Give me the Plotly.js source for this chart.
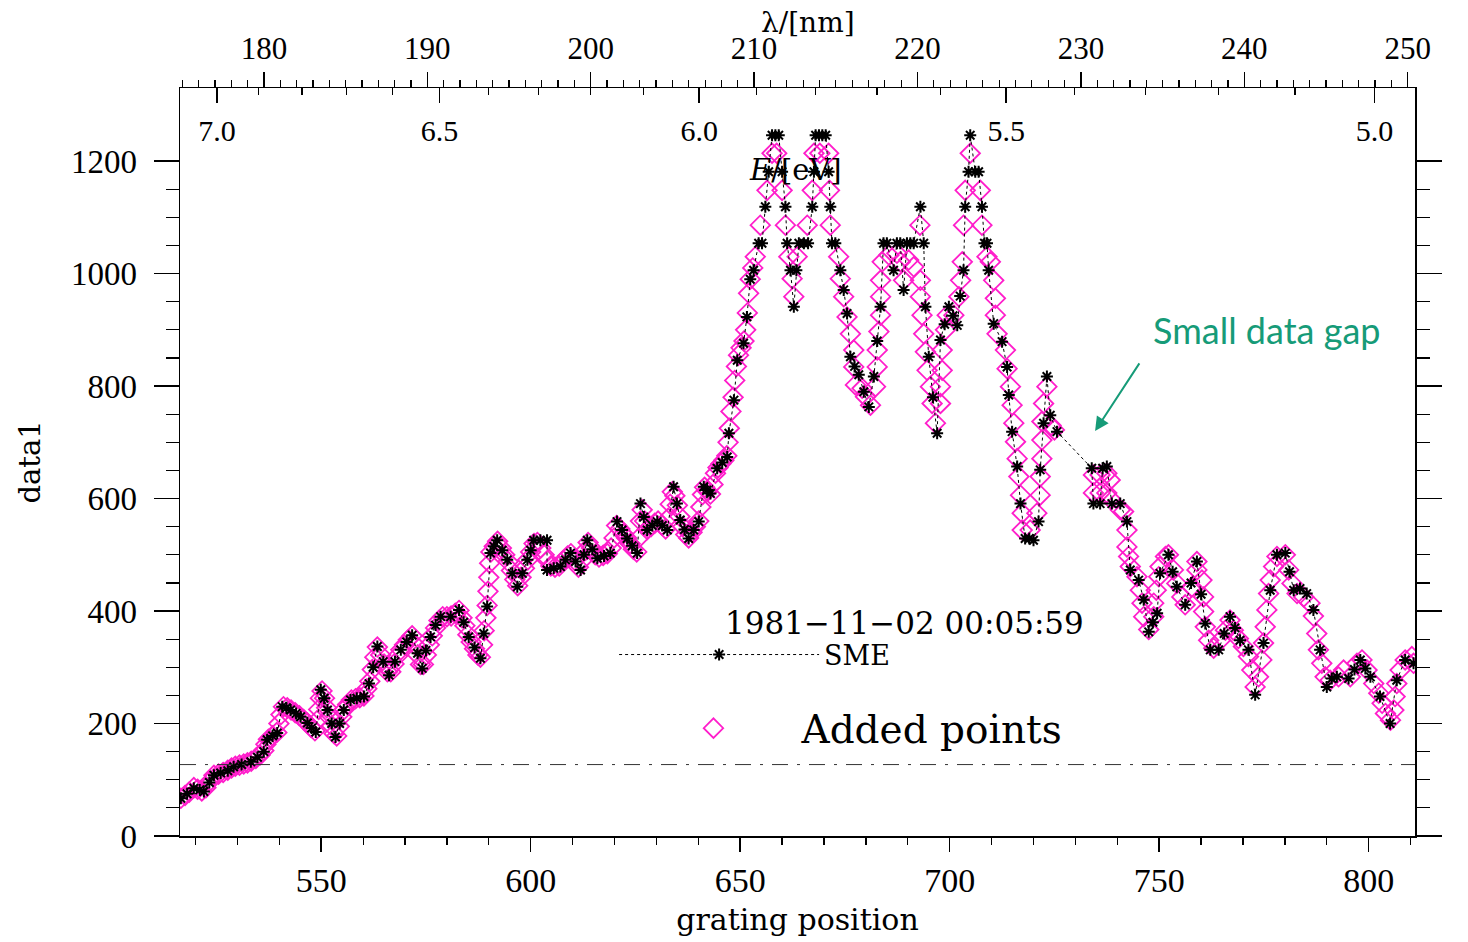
<!DOCTYPE html>
<html>
<head>
<meta charset="utf-8">
<script src="https://cdn.plot.ly/plotly-3.0.1.min.js"></script>
<style>html,body{margin:0;padding:0;background:#fff;}#chart{width:1468px;height:942px;}</style>
</head>
<body>
<div id="chart"></div>
<script>
// ---- data ----
const smeX = [516.5,518.0,519.6,521.0,522.0,523.3,524.4,526.0,527.7,529.1,531.0,533.2,534.8,536.3,537.1,538.4,539.5,540.7,541.7,542.7,544.0,545.1,546.7,547.7,548.7,549.9,550.7,551.5,552.5,553.4,554.4,555.4,557.0,558.5,560.2,561.4,562.4,563.4,564.8,566.2,567.6,569.0,570.4,571.7,573.0,574.1,575.0,576.1,577.3,578.5,580.9,582.9,584.0,585.2,586.6,588.0,588.8,589.6,590.4,591.2,592.0,593.2,594.4,595.6,596.8,598.0,599.2,600.0,600.7,602.3,603.9,603.9,605.5,607.1,608.3,609.5,610.7,611.9,612.7,613.5,614.7,615.9,617.5,619.0,620.6,621.8,623.0,624.2,625.4,626.2,627.0,627.8,629.0,630.2,631.4,632.6,634.1,634.9,635.7,636.7,637.7,638.9,640.1,641.3,642.1,642.9,644.5,645.7,646.9,647.3,648.5,649.3,650.8,651.6,652.4,653.2,654.4,655.2,656.0,656.8,657.6,658.4,659.2,660.0,660.8,661.2,662.0,662.8,663.4,664.0,665.2,666.2,667.2,667.6,668.0,668.8,669.6,670.4,671.1,671.5,671.9,672.7,673.9,674.7,675.5,676.3,677.3,678.3,679.5,680.7,681.9,682.7,683.5,684.2,685.0,686.6,687.4,688.2,689.0,689.8,690.6,691.4,693.0,693.8,694.2,695.0,696.0,697.0,697.8,698.8,699.8,700.8,701.8,702.5,703.3,703.7,704.5,704.9,706.1,706.9,707.7,708.3,708.9,709.3,710.5,712.5,713.7,714.1,714.9,716.1,716.9,718.0,719.0,720.0,721.2,721.6,722.4,723.2,724.0,725.6,733.9,734.3,735.9,736.5,737.5,738.7,740.7,742.3,743.1,745.1,746.3,747.5,748.5,749.5,750.2,752.2,753.2,754.2,756.2,757.6,759.0,760.0,761.0,762.2,764.2,765.5,766.9,768.1,769.3,771.3,772.9,774.9,776.5,778.1,780.1,781.1,782.1,783.6,785.2,786.8,788.4,790.0,791.2,792.4,795.2,796.6,798.0,799.2,800.4,802.7,805.1,806.7,808.7,810.7];
const smeY = [67,75,85,82,79,95,108,112,116,123,127,132,140,150,171,178,183,230,228,224,218,212,201,192,185,260,245,224,200,176,200,224,242,245,248,271,300,337,310,286,310,331,345,357,325,298,330,354,375,390,390,402,380,354,335,316,360,408,503,515,526,508,491,467,443,467,491,508,526,526,526,473,476,479,491,503,488,473,500,526,510,494,498,503,559,544,529,516,503,591,567,544,552,559,552,544,621,591,562,545,529,544,559,621,615,609,654,664,674,716,775,846,876,923,990,1006,1054,1054,1119,1181,1246,1246,1246,1181,1119,1054,1006,941,1006,1054,1054,1054,1119,1181,1246,1246,1246,1246,1181,1119,1054,1054,1006,971,929,852,835,820,790,763,817,880,941,1054,1054,1006,1054,1054,971,1054,1054,1054,1119,1054,941,852,780,716,882,910,941,925,908,960,1006,1119,1181,1246,1181,1181,1119,1054,1054,1006,911,879,834,784,719,657,591,529,529,526,559,651,734,817,748,719,654,591,591,654,657,591,591,559,473,455,420,363,380,396,467,500,470,443,411,450,488,430,378,331,331,360,390,370,348,331,251,343,437,500,503,470,437,440,431,402,331,265,280,283,280,296,313,298,283,248,200,277,313,307];

const addX = [516.5,517.5,518.5,519.6,520.5,521.5,522.5,523.4,524.4,525.5,526.6,527.7,528.6,529.5,530.5,531.5,532.4,533.3,534.4,535.4,536.3,536.8,537.4,538.4,539.4,539.9,540.4,541.0,541.9,542.8,543.8,544.8,545.8,546.7,547.6,548.5,549.0,549.4,549.8,550.2,550.8,551.3,551.9,552.5,553.1,553.7,554.3,554.9,555.5,556.3,557.2,558.2,559.2,560.2,560.9,561.6,562.2,562.8,563.4,564.2,565.0,565.8,566.6,567.4,568.2,569.0,569.9,570.8,571.7,572.4,573.0,573.7,574.4,575.1,575.8,576.5,577.3,578.1,579.0,580.0,581.0,582.0,582.9,583.6,584.3,585.0,585.8,586.6,587.4,588.0,588.5,588.9,589.3,589.6,589.8,590.0,590.2,590.5,591.3,592.1,593.0,593.8,594.6,595.4,596.2,596.9,597.7,598.5,599.3,600.0,600.8,601.6,602.4,603.2,604.0,604.8,605.8,606.8,607.8,608.8,609.6,610.5,611.4,612.3,613.1,613.7,614.5,615.4,616.3,617.3,618.3,619.2,619.9,620.5,621.3,622.1,622.9,623.7,624.5,625.3,625.8,626.2,626.6,627.2,627.8,628.7,629.6,630.4,631.3,632.2,632.8,633.3,633.8,634.4,635.0,635.6,636.3,637.0,637.7,638.5,639.3,640.1,640.6,641.0,641.5,642.2,642.9,643.5,644.1,644.7,645.4,646.1,646.8,647.1,647.4,647.8,648.3,648.7,649.1,649.6,650.2,650.9,651.3,651.7,652.0,652.4,653.0,653.6,654.8,656.4,657.6,658.7,660.0,660.8,661.6,662.4,662.8,663.6,666.0,667.2,667.6,669.0,671.1,671.3,671.5,673.5,673.9,674.7,675.5,676.3,677.1,677.1,677.5,679.1,679.9,681.1,682.3,682.7,682.7,683.1,683.5,683.5,683.5,683.9,685.5,687.4,688.2,689.0,690.2,691.4,692.9,693.0,693.0,693.4,693.8,694.2,694.6,695.4,695.8,696.6,697.8,697.8,698.2,698.2,699.0,699.4,701.0,702.2,702.6,703.0,703.3,703.7,704.9,707.3,707.7,708.9,709.7,710.5,710.9,710.9,711.3,713.3,713.7,714.5,714.9,715.3,715.7,716.1,716.5,716.9,717.3,717.3,719.2,720.8,721.6,721.6,722.0,722.0,722.0,722.4,723.2,724.2,725.0,734.3,734.3,735.9,735.9,737.5,737.5,738.3,738.3,740.7,741.5,742.3,742.3,742.7,743.1,744.7,745.5,745.9,746.3,747.5,748.7,748.7,749.3,749.9,750.2,751.5,752.2,753.4,754.2,755.4,756.2,757.8,759.0,759.0,760.2,760.6,760.6,761.0,761.8,763.0,764.6,765.8,766.9,767.7,768.9,770.1,771.3,772.1,772.9,773.7,774.5,774.9,775.3,775.7,776.1,776.5,777.3,778.1,780.1,780.9,781.7,782.9,784.5,786.0,786.8,787.6,788.0,788.8,789.6,790.8,792.8,794.0,795.6,797.2,798.4,799.6,801.2,802.4,803.2,804.0,805.2,806.0,806.3,806.7,807.5,808.7,810.3,810.7];
const addY = [67,72,78,86,83,80,86,97,108,110,113,117,121,124,126,128,130,133,138,144,152,163,172,178,184,200,216,230,228,224,219,214,207,201,193,187,205,225,245,258,245,228,212,196,182,178,195,212,225,234,242,244,246,249,262,275,296,318,336,322,306,292,292,306,320,331,340,349,356,340,322,305,305,322,340,356,370,383,390,390,391,396,401,388,374,358,345,333,322,318,340,365,388,410,435,460,485,505,515,524,512,500,488,472,456,445,460,476,491,505,520,522,512,500,490,480,478,480,490,498,502,490,478,490,508,522,512,500,496,499,502,512,530,552,546,537,530,520,510,505,530,560,580,560,545,550,556,560,553,546,565,590,612,605,588,568,550,536,530,540,550,560,585,607,620,613,608,625,645,655,662,668,676,700,725,755,780,810,835,855,868,880,900,930,965,990,1010,1030,1086,1148,1214,1214,1148,1086,1030,991,959,1030,1086,1148,1214,1214,1214,1148,1086,1030,991,959,923,893,864,834,802,796,781,766,799,834,864,897,926,959,988,1021,1033,1036,1021,988,1024,1012,1086,988,959,926,893,861,828,799,769,734,769,799,828,864,900,926,926,959,988,1021,1086,1148,1214,1148,1086,1030,1021,988,956,926,893,864,831,799,766,734,701,671,639,606,574,544,544,574,606,639,671,704,737,769,799,730,722,642,610,642,610,645,610,633,600,580,577,544,514,497,479,461,437,414,390,367,390,414,437,461,479,497,500,473,449,425,411,443,473,488,455,425,399,372,348,334,348,366,384,366,351,337,319,295,265,283,313,343,372,402,431,455,479,497,500,473,449,431,425,414,391,360,331,307,283,277,283,295,283,307,313,295,271,254,236,218,206,224,248,271,295,313,319,307];

const xTickStep = 50, xMinorStep = 10;
const yTickStep = 200, yMinorStep = 50;
const lambdaTickStep = 10, lambdaMinorStep = 1;
const eVLabels = [7.0, 6.5, 6.0, 5.5, 5.0];
const eVMinor = [7.0,6.9,6.8,6.7,6.6,6.5,6.4,6.3,6.2,6.1,6.0,5.9,5.8,5.7,5.6,5.5,5.4,5.3,5.2,5.1,5.0];
const baseline = 127;
const gapHead = [734.7, 720];
const gapTail = [745.5, 843];
const stampText = '1981\u221211\u221202 00:05:59';

// ---- axis mapping ----
const xRange = [516.3, 811.05];
const lambdaRange = [174.86, 250.45];
const HC = 1239.84; // eV*nm
const toLambda = e => HC / e;

const serif = 'Liberation Serif, Times New Roman, serif';
const dserif = 'DejaVu Serif, serif';
const magenta = '#ff1ecb';
const green = '#169b78';

const traces = [
  {x: addX, y: addY, type: 'scatter', mode: 'markers', name: 'Added points',
   legend: 'legend2',
   marker: {symbol: 'diamond-open', size: 15, color: magenta, line: {width: 1.8, color: magenta}}},
  {x: smeX, y: smeY, type: 'scatter', mode: 'lines+markers', name: 'SME',
   legend: 'legend',
   line: {color: '#000', width: 1, dash: 'dot'},
   marker: {symbol: 'asterisk-open', size: 10, color: '#000', line: {width: 2, color: '#000'}}},
  {x: [], y: [], xaxis: 'x2', yaxis: 'y', showlegend: false, type: 'scatter'},
  {x: [], y: [], xaxis: 'x3', yaxis: 'y', showlegend: false, type: 'scatter'}
];

const layout = {
  width: 1468, height: 942,
  margin: {l: 180, r: 53, t: 88, b: 106},
  paper_bgcolor: '#fff', plot_bgcolor: '#fff',
  font: {family: serif, color: '#000'},
  xaxis: {
    range: xRange, dtick: xTickStep, tick0: 0, ticks: 'outside', ticklen: 14, tickwidth: 1.5, tickcolor: '#000',
    minor: {dtick: xMinorStep, ticks: 'outside', ticklen: 7, tickwidth: 1.2, tickcolor: '#000', showgrid: false},
    showline: true, linecolor: '#000', linewidth: 1.5, showgrid: false, zeroline: false,
    tickfont: {family: serif, size: 34, color: '#000'}, ticklabelstandoff: 0,
    title: {text: 'grating position', font: {family: dserif, size: 30, color: '#000'}, standoff: 10}
  },
  xaxis2: {
    overlaying: 'x', side: 'top', anchor: 'y', range: lambdaRange,
    dtick: lambdaTickStep, tick0: 0, ticks: 'outside', ticklen: 15, tickwidth: 1.5, tickcolor: '#000',
    minor: {dtick: lambdaMinorStep, ticks: 'outside', ticklen: 7, tickwidth: 1.2, tickcolor: '#000', showgrid: false},
    showline: true, linecolor: '#000', linewidth: 1.5, showgrid: false, zeroline: false,
    tickfont: {family: serif, size: 31, color: '#000'}, ticklabelstandoff: 0
  },
  xaxis3: {
    overlaying: 'x', side: 'top', anchor: 'y', range: lambdaRange,
    tickmode: 'array', tickvals: eVLabels.map(toLambda), ticktext: eVLabels.map(v => v.toFixed(1)),
    ticks: 'inside', ticklen: 15, tickwidth: 1.5, tickcolor: '#000',
    minor: {tickmode: 'array', tickvals: eVMinor.map(toLambda), ticks: 'inside', ticklen: 7, tickwidth: 1.2, tickcolor: '#000', showgrid: false},
    ticklabelposition: 'inside', ticklabelstandoff: 20,
    showline: false, showgrid: false, zeroline: false,
    tickfont: {family: serif, size: 30, color: '#000'}
  },
  yaxis: {
    range: [0, 1330], dtick: yTickStep, tick0: 0, ticks: 'outside', ticklen: 25, tickwidth: 1.5, tickcolor: '#000',
    minor: {dtick: yMinorStep, ticks: 'outside', ticklen: 13, tickwidth: 1.2, tickcolor: '#000', showgrid: false},
    showline: true, linecolor: '#000', linewidth: 1.5, mirror: 'ticks', showgrid: false, zeroline: false,
    tickfont: {family: serif, size: 33, color: '#000'}, ticklabelstandoff: 10,
    title: {text: 'data1', font: {family: dserif, size: 29, color: '#000'}, standoff: 22}
  },
  shapes: [
    {type: 'line', xref: 'paper', x0: 0, x1: 1, yref: 'y', y0: baseline, y1: baseline,
     line: {color: '#333', width: 1, dash: '16px,9px,3px,9px'}}
  ],
  annotations: [
    {text: '\u03bb/[nm]', xref: 'paper', yref: 'paper', x: 0.5085, y: 1.088, xanchor: 'center', yanchor: 'middle',
     showarrow: false, font: {family: dserif, size: 28, color: '#000'}},
    {text: '<i>E</i>/[eV]', xref: 'paper', yref: 'paper', x: 0.498, y: 0.890, xanchor: 'center', yanchor: 'middle',
     showarrow: false, font: {family: dserif, size: 29, color: '#000'}},
    {text: stampText, xref: 'paper', yref: 'paper', x: 0.587, y: 0.285, xanchor: 'center', yanchor: 'middle',
     showarrow: false, font: {family: dserif, size: 31, color: '#000'}},
    {text: 'Small data gap', xref: 'paper', yref: 'paper', x: 0.880, y: 0.6765, xanchor: 'center', yanchor: 'middle',
     showarrow: false, font: {family: 'Lato, Open Sans, sans-serif', size: 36, color: green}},
    {text: '', x: gapHead[0], y: gapHead[1], xref: 'x', yref: 'y',
     ax: gapTail[0], ay: gapTail[1], axref: 'x', ayref: 'y',
     showarrow: true, arrowhead: 2, arrowsize: 1.4, arrowwidth: 2, arrowcolor: green}
  ],
  legend: {x: 0.3515, y: 0.242, xanchor: 'left', yanchor: 'middle', bgcolor: 'rgba(0,0,0,0)',
    itemwidth: 200, font: {family: dserif, size: 27, color: '#000'}},
  legend2: {x: 0.3607, y: 0.144, xanchor: 'left', yanchor: 'middle', bgcolor: 'rgba(0,0,0,0)',
    itemwidth: 166, font: {family: dserif, size: 39, color: '#000'}},
  showlegend: true
};

Plotly.newPlot('chart', traces, layout, {staticPlot: true, displayModeBar: false});
</script>
</body>
</html>
